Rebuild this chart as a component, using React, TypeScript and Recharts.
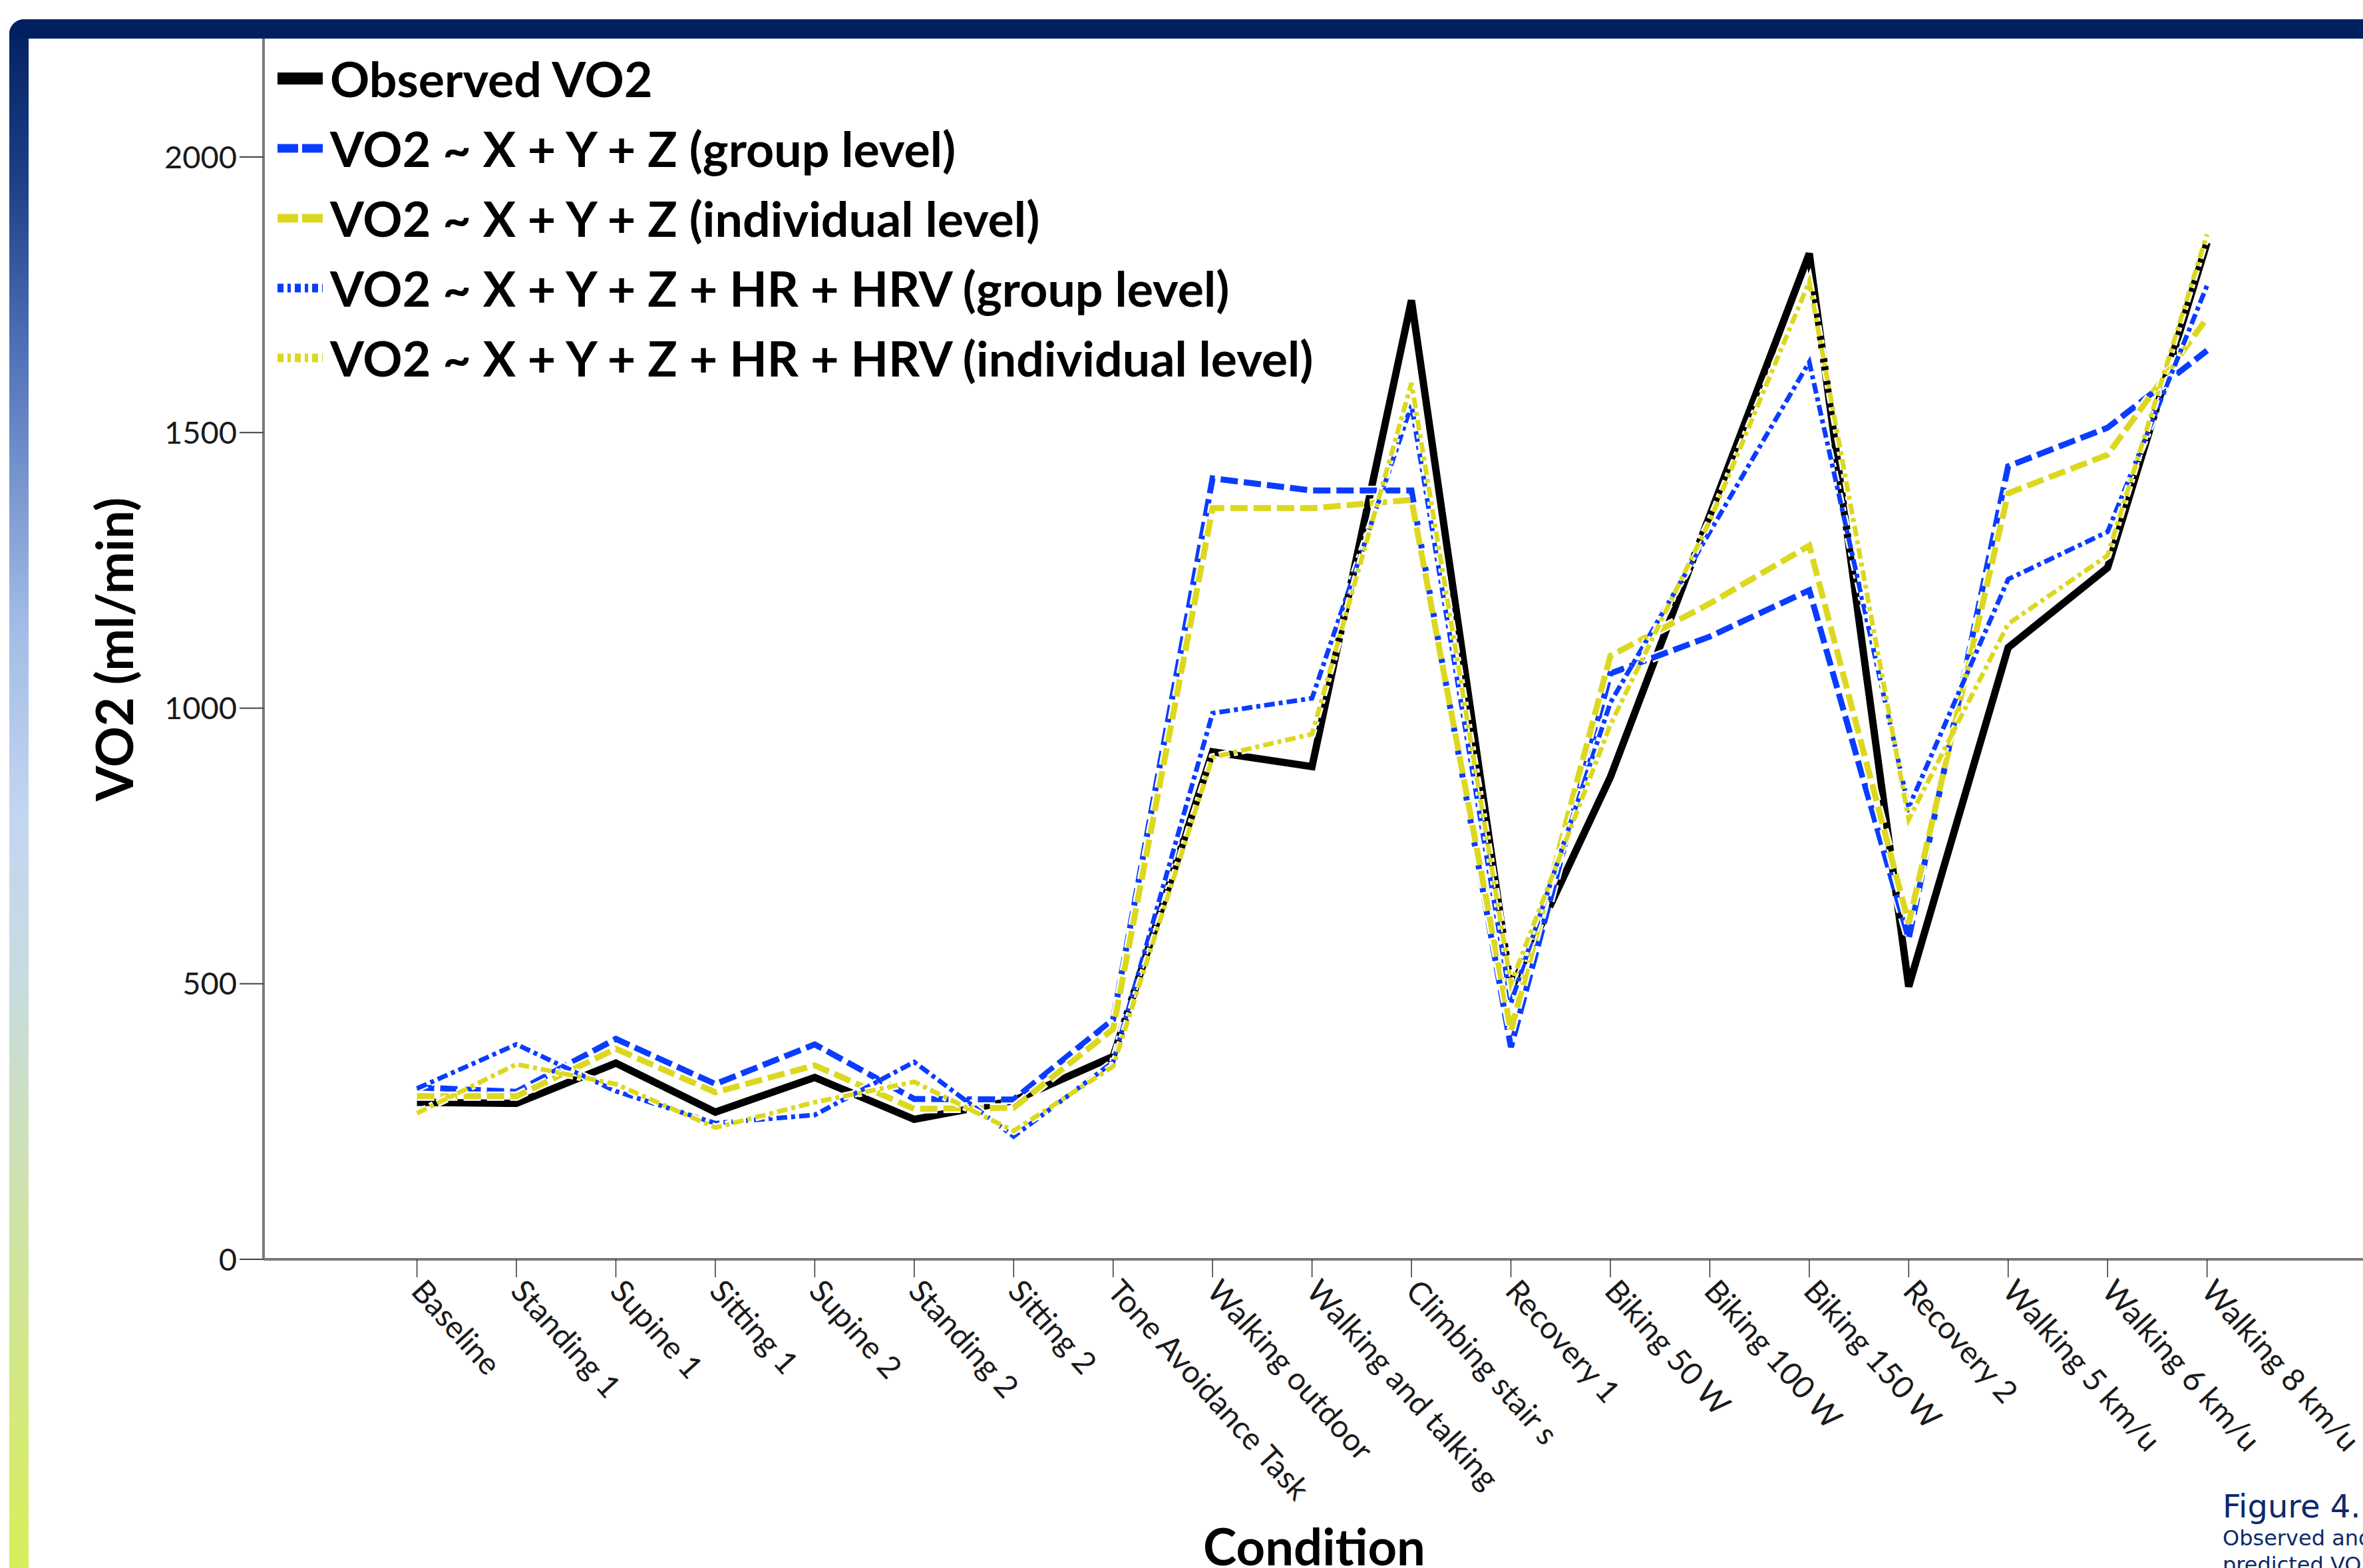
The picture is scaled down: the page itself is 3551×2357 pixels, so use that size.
import React from "react";
import { LineChart, Line, XAxis, YAxis, Label } from "recharts";

const CONDITIONS = [
  "Baseline",
  "Standing 1",
  "Supine 1",
  "Sitting 1",
  "Supine 2",
  "Standing 2",
  "Sitting 2",
  "Tone Avoidance Task",
  "Walking outdoor",
  "Walking and talking",
  "Climbing stair s",
  "Recovery 1",
  "Biking 50 W",
  "Biking 100 W",
  "Biking 150 W",
  "Recovery 2",
  "Walking 5 km/u",
  "Walking 6 km/u",
  "Walking 8 km/u",
];

const OBSERVED = [285, 283, 356, 267, 330, 254, 288, 368, 921, 894, 1740, 490, 875, 1350, 1825, 495, 1110, 1255, 1845];
const GROUP_XYZ = [312, 304, 400, 318, 390, 291, 290, 435, 1417, 1395, 1395, 385, 1063, 1130, 1214, 582, 1439, 1509, 1649];
const INDIV_XYZ = [296, 296, 382, 303, 352, 273, 275, 418, 1363, 1363, 1378, 415, 1095, 1190, 1295, 610, 1390, 1460, 1708];
const GROUP_HR = [310, 390, 305, 247, 262, 358, 223, 358, 991, 1018, 1550, 465, 1010, 1320, 1628, 820, 1234, 1320, 1767];
const INDIV_HR = [265, 354, 318, 239, 285, 322, 233, 350, 911, 953, 1590, 500, 970, 1340, 1774, 798, 1153, 1277, 1860];

const Y_TICKS = [0, 500, 1000, 1500, 2000];

const rows = CONDITIONS.map((name, i) => ({
  idx: i,
  name,
  observed: OBSERVED[i],
  groupXyz: GROUP_XYZ[i],
  indivXyz: INDIV_XYZ[i],
  groupHr: GROUP_HR[i],
  indivHr: INDIV_HR[i],
}));

const NAVY = "#002060";
const BLUE = "#0a3cff";
const YELLOW = "#dcd820";
const FONT = "Lato, 'Open Sans', sans-serif";

const SERIES = [
  { key: "observed", label: "Observed VO2", color: "#000000", width: 11, dash: "", legendDash: "" },
  { key: "groupXyz", label: "VO2 ~ X + Y + Z (group level)", color: BLUE, width: 9, dash: "26 9", legendDash: "31 6" },
  { key: "indivXyz", label: "VO2 ~ X + Y + Z (individual level)", color: YELLOW, width: 9, dash: "26 9", legendDash: "31 6" },
  { key: "groupHr", label: "VO2 ~ X + Y + Z + HR + HRV (group level)", color: BLUE, width: 7, dash: "16 6 6 6", legendDash: "9 6 5 6" },
  { key: "indivHr", label: "VO2 ~ X + Y + Z + HR + HRV (individual level)", color: YELLOW, width: 7, dash: "16 6 6 6", legendDash: "9 6 5 6" },
];

function ConditionTick(props: any) {
  const { x, y, payload } = props;
  return (
    <text
      x={x}
      y={y}
      transform={`rotate(48, ${x}, ${y})`}
      dx={2}
      dy="0.35em"
      textAnchor="start"
      fontFamily={FONT}
      fontSize={47}
      fill="#1a1a1a"
    >
      {CONDITIONS[payload.value]}
    </text>
  );
}

function LegendBox() {
  return (
    <div
      style={{
        position: "absolute",
        left: 417,
        top: 65,
        fontFamily: FONT,
        fontWeight: 700,
        fontSize: 73.5,
        color: "#000",
      }}
    >
      {SERIES.map((s) => (
        <div key={s.key} style={{ height: 105, display: "flex", alignItems: "center", whiteSpace: "nowrap" }}>
          <svg width={68} height={24} style={{ display: "block" }}>
            {s.legendDash ? (
              <line x1={0} y1={12} x2={68} y2={12} stroke={s.color} strokeWidth={13} strokeDasharray={s.legendDash} />
            ) : (
              <rect x={0} y={3} width={68} height={18} fill="#000" />
            )}
          </svg>
          <span style={{ marginLeft: 11, lineHeight: 1 }}>{s.label}</span>
        </div>
      ))}
    </div>
  );
}

export default function App() {
  return (
    <div
      style={{
        position: "absolute",
        left: 0,
        top: 0,
        width: 3551,
        height: 2357,
        overflow: "hidden",
        background: "#ffffff",
      }}
    >
      {/* frame: navy top bar and gradient side bar */}
      <div
        style={{
          position: "absolute",
          left: 14,
          top: 29,
          width: 29,
          height: 2400,
          borderTopLeftRadius: 22,
          background:
            "linear-gradient(to bottom, #002060 0%, #1d3f86 10%, #5677bb 22%, #a3bce6 38%, #c3d6f1 50%, #c8dbe0 60%, #cfe3a8 75%, #d8f04e 100%)",
        }}
      />
      <div
        style={{
          position: "absolute",
          left: 14,
          top: 29,
          width: 3560,
          height: 29,
          borderTopLeftRadius: 22,
          background: NAVY,
        }}
      />

      <LineChart
        width={3551}
        height={2357}
        data={rows}
        margin={{ top: 58, right: 0, bottom: 164, left: 0 }}
        style={{ position: "absolute", left: 0, top: 0 }}
      >
        <XAxis
          type="number"
          dataKey="idx"
          domain={[-1.543, 19.568]}
          ticks={CONDITIONS.map((_, i) => i)}
          interval={0}
          allowDataOverflow
          height={300}
          tickSize={27}
          tickMargin={10}
          tickLine={{ stroke: "#333333", strokeWidth: 1.5 }}
          axisLine={{ stroke: "#7a7a7a", strokeWidth: 4 }}
          tick={<ConditionTick />}
        >
          <Label
            content={() => (
              <text x={1975} y={2353} textAnchor="middle" fontFamily={FONT} fontWeight={700} fontSize={76} fill="#000">
                Condition
              </text>
            )}
          />
        </XAxis>
        <YAxis
          type="number"
          domain={[0, 2215]}
          ticks={Y_TICKS}
          interval={0}
          allowDataOverflow
          width={396}
          tickSize={36}
          tickMargin={4}
          tickLine={{ stroke: "#404040", strokeWidth: 2 }}
          axisLine={{ stroke: "#7a7a7a", strokeWidth: 4 }}
          tick={{ fontFamily: FONT, fontSize: 47, fill: "#1a1a1a" }}
        >
          <Label
            content={() => (
              <text
                x={0}
                y={0}
                transform="translate(200, 976) rotate(-90)"
                textAnchor="middle"
                fontFamily={FONT}
                fontWeight={700}
                fontSize={76}
                fill="#000"
              >
                VO2 (ml/min)
              </text>
            )}
          />
        </YAxis>

        {SERIES.flatMap((s) => {
          const lines = [];
          if (s.dash) {
            lines.push(
              <Line
                key={`${s.key}-halo`}
                type="linear"
                dataKey={s.key}
                stroke="#ffffff"
                strokeWidth={s.width + 5}
                strokeDasharray={s.dash}
                dot={false}
                activeDot={false}
                isAnimationActive={false}
                legendType="none"
              />
            );
          }
          lines.push(
            <Line
              key={s.key}
              type="linear"
              dataKey={s.key}
              stroke={s.color}
              strokeWidth={s.width}
              strokeDasharray={s.dash || undefined}
              dot={false}
              activeDot={false}
              isAnimationActive={false}
            />
          );
          return lines;
        })}
      </LineChart>

      <LegendBox />

      <div
        style={{
          position: "absolute",
          left: 3340,
          top: 2236,
          fontFamily: "'DejaVu Sans', sans-serif",
          color: "#0d2a6a",
          whiteSpace: "nowrap",
        }}
      >
        <div style={{ fontSize: 48, lineHeight: "56px" }}>Figure 4.</div>
        <div style={{ fontSize: 32, lineHeight: "40px" }}>Observed and</div>
        <div style={{ fontSize: 32, lineHeight: "40px" }}>predicted VO2</div>
      </div>
    </div>
  );
}
